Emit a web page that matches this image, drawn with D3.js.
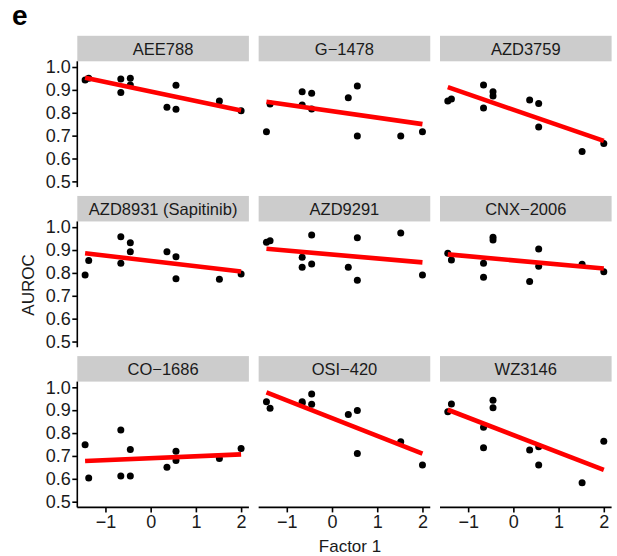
<!DOCTYPE html>
<html>
<head>
<meta charset="utf-8">
<script src="https://cdn.jsdelivr.net/npm/d3@7"></script>
<style>
  html, body { margin: 0; padding: 0; background: #fff; }
  svg { display: block; font-family: "Liberation Sans", Arial, Helvetica, sans-serif; }
</style>
</head>
<body>
<svg id="chart" width="617" height="556"></svg>
<script>
// ---- data ----
const drugs = ["AEE788", "G\u22121478", "AZD3759",
               "AZD8931 (Sapitinib)", "AZD9291", "CNX\u22122006",
               "CO\u22121686", "OSI\u2212420", "WZ3146"];
const factor1 = [-1.45, -1.37, -0.66, -0.66, -0.45, -0.45, 0.36, 0.56, 0.56, 1.52, 2.0];
const aurocAEE788  = [0.943, 0.951, 0.948, 0.889, 0.951, 0.921, 0.824, 0.920, 0.815, 0.851, 0.809];
const aurocG1478   = [0.717, 0.838, 0.892, 0.834, 0.885, 0.816, 0.866, 0.917, 0.698, 0.698, 0.717];
const aurocAZD3759 = [0.851, 0.860, 0.921, 0.821, 0.892, 0.873, 0.856, 0.840, 0.738, 0.631, 0.666];
const aurocAZD8931 = [0.791, 0.854, 0.958, 0.842, 0.932, 0.893, 0.892, 0.871, 0.775, 0.772, 0.795];
const aurocAZD9291 = [0.934, 0.941, 0.868, 0.825, 0.966, 0.839, 0.825, 0.954, 0.768, 0.975, 0.791];
const aurocCNX2006 = [0.886, 0.857, 0.842, 0.781, 0.956, 0.944, 0.763, 0.905, 0.829, 0.838, 0.805];
const aurocCO1686  = [0.749, 0.603, 0.813, 0.612, 0.728, 0.612, 0.651, 0.721, 0.680, 0.689, 0.733];
const aurocOSI420  = [0.937, 0.909, 0.937, 0.930, 0.971, 0.926, 0.881, 0.899, 0.711, 0.762, 0.660];
const aurocWZ3146  = [0.893, 0.927, 0.825, 0.736, 0.944, 0.911, 0.726, 0.740, 0.660, 0.583, 0.764];
const aurocByDrug = [aurocAEE788, aurocG1478, aurocAZD3759, aurocAZD8931, aurocAZD9291,
                     aurocCNX2006, aurocCO1686, aurocOSI420, aurocWZ3146];
const yTicks = [0.5, 0.6, 0.7, 0.8, 0.9, 1.0];
const xTicks = [-1, 0, 1, 2];
const yLimits = [0.5, 1.0];
const panelLabel = "e";
const xTitle = "Factor 1";
const yTitle = "AUROC";

// ---- layout ----
const svg = d3.select("#chart");
const colLeft = [77.3, 258.65, 440.0];
const panelTop = [61.3, 221.45, 381.6];
const panelW = 171.6, panelH = 125.8, stripH = 25.5;

const ext = d3.extent(factor1);
const pad = (ext[1] - ext[0]) * 0.05;
const x = d3.scaleLinear().domain([ext[0] - pad, ext[1] + pad]).range([0, panelW]);
const yPad = (yLimits[1] - yLimits[0]) * 0.05;
const y = d3.scaleLinear().domain([yLimits[0] - yPad, yLimits[1] + yPad]).range([panelH, 0]);

function lm(xs, ys) {
  const mx = d3.mean(xs), my = d3.mean(ys);
  let sxy = 0, sxx = 0;
  xs.forEach((v, i) => { sxy += (v - mx) * (ys[i] - my); sxx += (v - mx) * (v - mx); });
  const b = sxy / sxx;
  return { a: my - b * mx, b };
}

const textCol = "#1a1a1a";

drugs.forEach((name, i) => {
  const r = Math.floor(i / 3), c = i % 3;
  const g = svg.append("g").attr("transform", `translate(${colLeft[c]},${panelTop[r]})`);

  // strip
  g.append("rect").attr("x", 0).attr("y", -stripH).attr("width", panelW).attr("height", stripH)
    .attr("fill", "#cccccc");
  g.append("text").attr("x", panelW / 2).attr("y", -stripH / 2).attr("dy", "0.36em")
    .attr("text-anchor", "middle").attr("font-size", 16.5).attr("fill", textCol).text(name);

  const ys = aurocByDrug[i];
  const pts = factor1.map((v, k) => [v, ys[k]]);

  // points
  g.selectAll("circle").data(pts).join("circle")
    .attr("cx", d => x(d[0])).attr("cy", d => y(d[1])).attr("r", 3.5).attr("fill", "#000");

  // regression line
  const fit = lm(factor1, ys);
  g.append("line")
    .attr("x1", x(ext[0])).attr("y1", y(fit.a + fit.b * ext[0]))
    .attr("x2", x(ext[1])).attr("y2", y(fit.a + fit.b * ext[1]))
    .attr("stroke", "#ff0000").attr("stroke-width", 4.6);

  // y axis on first column
  if (c === 0) {
    const ya = g.append("g").call(d3.axisLeft(y).tickValues(yTicks).tickFormat(d3.format(".1f"))
      .tickSizeOuter(0).tickSize(5).tickPadding(1.5));
    ya.select(".domain").attr("stroke", "#000").attr("stroke-width", 1.6).attr("d", `M0,0V${panelH}`);
    ya.selectAll(".tick line").attr("stroke", "#000").attr("stroke-width", 1.6);
    ya.selectAll(".tick text").attr("font-size", 18).attr("fill", textCol)
      .attr("font-family", "Liberation Sans, Arial, sans-serif");
  }
  // x axis on last row
  if (r === 2) {
    const xa = g.append("g").attr("transform", `translate(0,${panelH})`)
      .call(d3.axisBottom(x).tickValues(xTicks).tickFormat(d3.format("d"))
      .tickSizeOuter(0).tickSize(5).tickPadding(3));
    xa.select(".domain").attr("stroke", "#000").attr("stroke-width", 1.6).attr("d", `M0,0H${panelW}`);
    xa.selectAll(".tick line").attr("stroke", "#000").attr("stroke-width", 1.6);
    xa.selectAll(".tick text").attr("font-size", 18).attr("fill", textCol)
      .attr("font-family", "Liberation Sans, Arial, sans-serif");
  }
});

// titles
svg.append("text").attr("x", 12).attr("y", 25).attr("font-size", 28).attr("font-weight", "bold")
  .attr("fill", "#000").text(panelLabel);
svg.append("text").attr("x", 350).attr("y", 551.5).attr("text-anchor", "middle")
  .attr("font-size", 17).attr("fill", textCol).text(xTitle);
svg.append("text").attr("transform", "translate(34,285) rotate(-90)").attr("text-anchor", "middle")
  .attr("font-size", 17).attr("fill", textCol).text(yTitle);
</script>
</body>
</html>
